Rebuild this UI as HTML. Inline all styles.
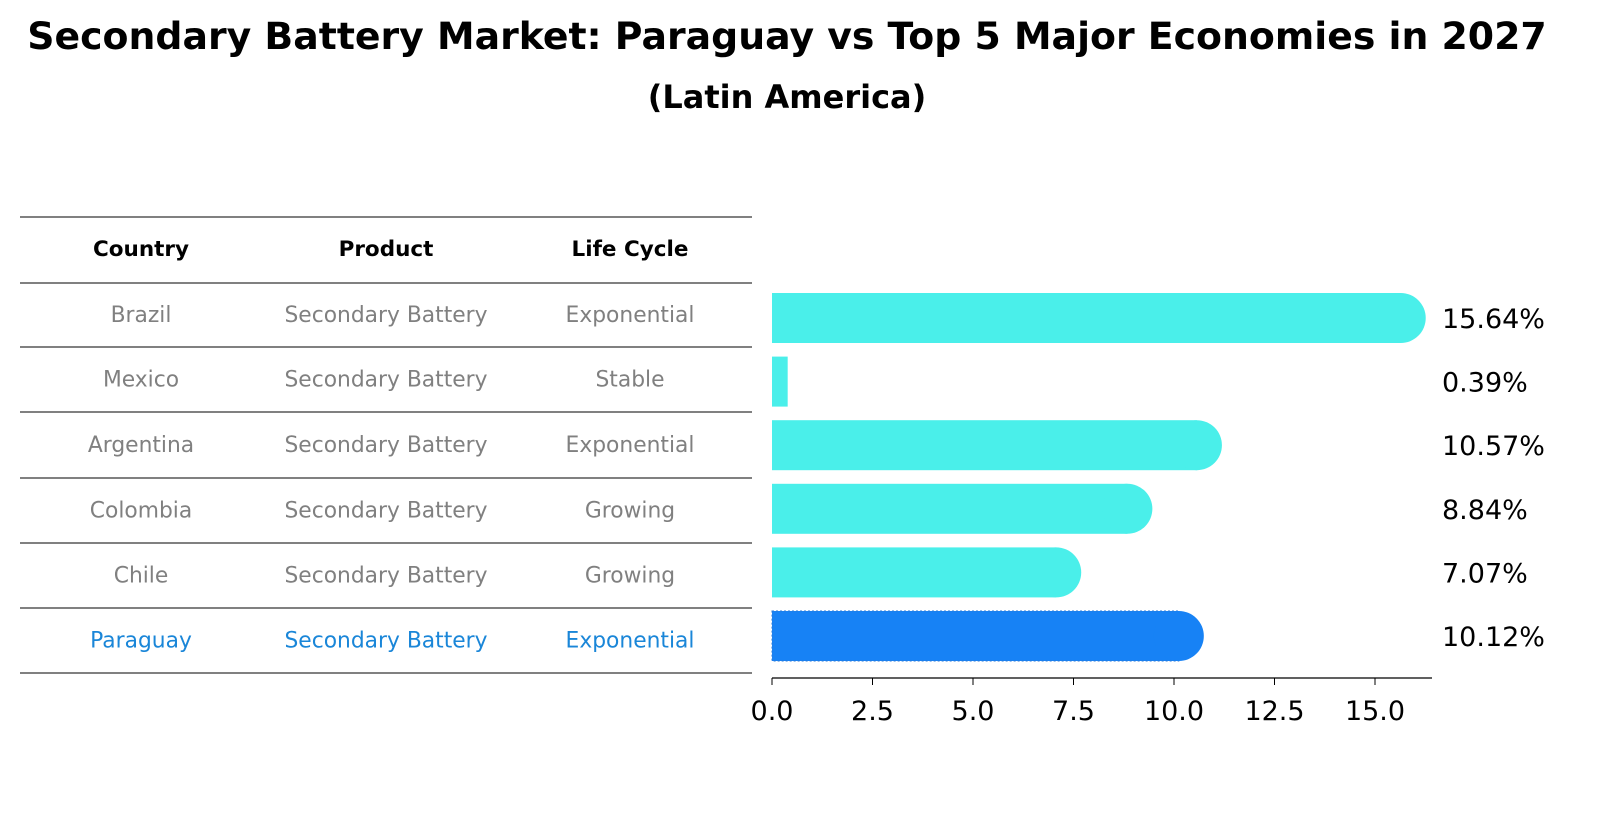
<!DOCTYPE html>
<html><head><meta charset="utf-8"><style>
body{margin:0;background:#fff;font-family:"DejaVu Sans","Liberation Sans",sans-serif;}
svg text{font-family:"DejaVu Sans","Liberation Sans",sans-serif;}
</style></head><body>
<svg id="c" width="1608" height="823" xmlns="http://www.w3.org/2000/svg">
<text x="787" y="49" text-anchor="middle" font-size="37.8" font-weight="bold">Secondary Battery Market: Paraguay vs Top 5 Major Economies in 2027</text>
<text x="787" y="108" text-anchor="middle" font-size="32" font-weight="bold">(Latin America)</text>
<g id="tbl"></g>
<g id="bars"></g>
</svg>
<script>
const countries=["Brazil","Mexico","Argentina","Colombia","Chile","Paraguay"];
const products=["Secondary Battery","Secondary Battery","Secondary Battery","Secondary Battery","Secondary Battery","Secondary Battery"];
const lifeCycles=["Exponential","Stable","Exponential","Growing","Growing","Exponential"];
const values=[15.64,0.39,10.57,8.84,7.07,10.12];
const tickLabels=["0.0","2.5","5.0","7.5","10.0","12.5","15.0"];
const NS="http://www.w3.org/2000/svg";
function mk(tag,attrs,parent,txt){const e=document.createElementNS(NS,tag);for(const k in attrs)e.setAttribute(k,attrs[k]);if(txt!==undefined)e.textContent=txt;parent.appendChild(e);return e;}
const tbl=document.getElementById('tbl'),bars=document.getElementById('bars');
const lineYs=[217,283,347,412,478,543,608,673];
lineYs.forEach((y,i)=>{const l=mk('line',{x1:20,x2:752,y1:y,y2:y,stroke:'#000','stroke-width':1},tbl);

});
const colX=[141,386,630];
["Country","Product","Life Cycle"].forEach((h,i)=>{const t=mk('text',{x:colX[i],y:256,'text-anchor':'middle','font-size':21.5,'font-weight':'bold'},tbl,h);

});
const rowY=(i)=>(lineYs[i+1]+lineYs[i+2])/2+7;
countries.forEach((c,i)=>{const col=c==="Paraguay"?"#1a86d8":"#808080";
[c,products[i],lifeCycles[i]].forEach((v,j)=>{const t=mk('text',{x:colX[j],y:rowY(i),'text-anchor':'middle','font-size':21.8,fill:col},tbl,v);

});});
const x0=772,pxPer=40.2;const X=v=>x0+v*pxPer;
const barY=i=>318+i*63.6;const h=50,r=25;
const ax=mk('line',{x1:x0,x2:1432,y1:678,y2:678,stroke:'#000','stroke-width':1.2},bars);


tickLabels.forEach(t=>{const v=parseFloat(t);const tk=mk('line',{x1:X(v),x2:X(v),y1:678,y2:685,stroke:'#000'},bars);


const tl=mk('text',{x:X(v),y:720,'text-anchor':'middle','font-size':27},bars,t);

});
values.forEach((v,i)=>{const isP=countries[i]==="Paraguay";const col=isP?"#1782f5":"#4aefea";const cy=barY(i);const xe=X(v);
const g=mk('g',{fill:col},bars);


const attrs={x:x0,y:cy-h/2,width:xe-x0,height:h};
if(isP){attrs.stroke='#2a7ad8';attrs['stroke-dasharray']='2 2';attrs['stroke-width']=1;}
mk('rect',attrs,g);
if(xe-x0>2*r)mk('circle',{cx:xe,cy:cy,r:r},g);
const lb=mk('text',{x:1442,y:cy+10,'font-size':27},bars,v.toFixed(2)+'%');

});
</script>
</body></html>
